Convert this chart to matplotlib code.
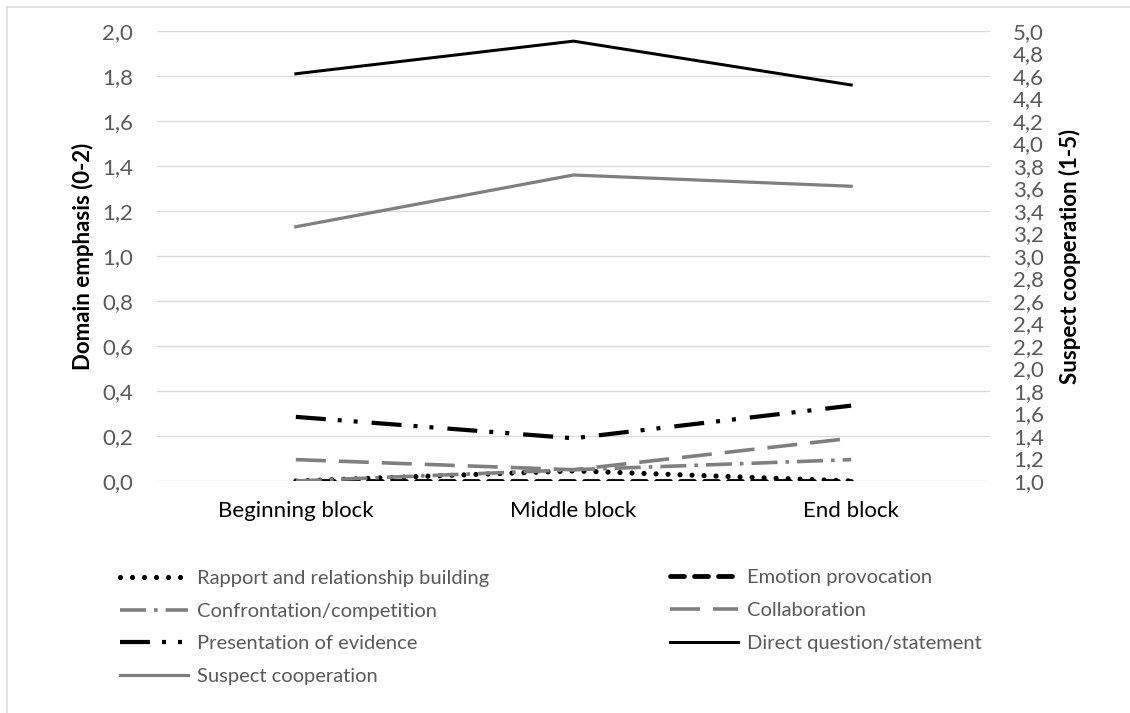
import matplotlib
matplotlib.use('Agg')
import matplotlib.pyplot as plt
from matplotlib.patches import Rectangle
import numpy as np

plt.rcParams['font.family'] = ['Lato', 'DejaVu Sans']
plt.rcParams['lines.scale_dashes'] = False

# ── data ──────────────────────────────────────────────────────────────────────
blocks        = ['Beginning block', 'Middle block', 'End block']
rapport       = [0.0, 0.045, 0.0]
emotion       = [0.0, 0.0, 0.0]
confrontation = [0.0, 0.05, 0.095]
collaboration = [0.095, 0.05, 0.19]
evidence      = [0.285, 0.19, 0.335]
direct        = [1.81, 1.955, 1.76]
cooperation   = [3.26, 3.72, 3.62]   # right axis, 1-5

W, H = 1130, 713
px = 0.72          # pixels -> points at dpi 100
GRAY = '#7F7F7F'
TXT = '#595959'
FS = 16            # tick / axis title size
FL = 14.5          # legend size

fig = plt.figure(figsize=(W / 100, H / 100), dpi=100)
fig.patch.set_facecolor('white')

# outer chart frame (only top/left visible in the reference)
fig.add_artist(Rectangle((6.5 / W, -0.5), 2, (1 - 6.5 / H) + 0.5,
                         transform=fig.transFigure, fill=False,
                         edgecolor='#D9D9D9', lw=1.5 * px, clip_on=False))

ax = fig.add_axes([157 / W, 1 - 481 / H, (990 - 157) / W, (481 - 31) / H])
ax2 = ax.twinx()

x = np.arange(len(blocks)) + 0.5

l_rap, = ax.plot(x, rapport, color='black', lw=5.2 * px,
                 linestyle=(0, (0.01, 12 * px)), dash_capstyle='round',
                 label='Rapport and relationship building')
l_emo, = ax.plot(x, emotion, color='black', lw=4.8 * px,
                 linestyle=(0, (14 * px, 10 * px)), dash_capstyle='round',
                 label='Emotion provocation')
l_con, = ax.plot(x, confrontation, color=GRAY, lw=3.6 * px,
                 linestyle=(0, (26 * px, 8 * px, 3.6 * px, 8 * px)),
                 label='Confrontation/competition')
l_col, = ax.plot(x, collaboration, color=GRAY, lw=3.6 * px,
                 linestyle=(0, (30 * px, 13 * px)),
                 label='Collaboration')
l_evi, = ax.plot(x, evidence, color='black', lw=4.2 * px,
                 linestyle=(0, (30 * px, 12 * px, 4 * px, 12 * px, 4 * px, 14 * px)),
                 label='Presentation of evidence')
l_dir, = ax.plot(x, direct, color='black', lw=3 * px,
                 label='Direct question/statement')
l_coo, = ax2.plot(x, cooperation, color=GRAY, lw=3.2 * px,
                  label='Suspect cooperation')

# ── axes ──────────────────────────────────────────────────────────────────────
ax.set_xlim(0, 3)
ax.set_ylim(0, 2)
ax2.set_ylim(1, 5)

lt = np.round(np.arange(0, 2.001, 0.2), 1)
rt = np.round(np.arange(1, 5.001, 0.2), 1)
ax.set_yticks(lt)
ax.set_yticklabels([f'{v:.1f}'.replace('.', ',') for v in lt])
ax2.set_yticks(rt)
ax2.set_yticklabels([f'{v:.1f}'.replace('.', ',') for v in rt])
ax.set_xticks(x)
ax.set_xticklabels(blocks)

ax.yaxis.grid(True, color='#D9D9D9', lw=1.3 * px)
ax.set_axisbelow(True)
for a in (ax, ax2):
    for s in a.spines.values():
        s.set_visible(False)

ax.tick_params(axis='y', length=0, pad=24 * px, labelsize=FS, labelcolor=TXT)
ax2.tick_params(axis='y', length=0, pad=23 * px, labelsize=FS, labelcolor=TXT)
ax.tick_params(axis='x', length=0, pad=20 * px, labelsize=FS, labelcolor='black')

ax.set_ylabel('Domain emphasis (0-2)', fontsize=FS, fontweight='bold')
ax.yaxis.label.set_verticalalignment('center')
ax.yaxis.set_label_coords((83 - 157) / 833, 0.5)
ax2.set_ylabel('Suspect cooperation (1-5)', fontsize=FS, fontweight='bold',
               rotation=90)
ax2.yaxis.label.set_verticalalignment('center')
ax2.yaxis.set_label_coords((1070 - 157) / 833, 0.5)

# ── legend (two columns placed separately) ───────────────────────────────────
hl = 68 / (FL / px)
common = dict(frameon=False, fontsize=FL, handlelength=hl, handletextpad=0.45,
              labelspacing=0.78, borderpad=0, borderaxespad=0,
              labelcolor=TXT, loc='center left')
leg1 = fig.legend(handles=[l_rap, l_con, l_evi, l_coo],
                  bbox_to_anchor=(120 / W, 1 - 627.5 / H), **common)
leg2 = fig.legend(handles=[l_emo, l_col, l_dir],
                  bbox_to_anchor=(670 / W, 1 - 610.5 / H), **common)

fig.savefig('out.png', dpi=100, facecolor='white')
